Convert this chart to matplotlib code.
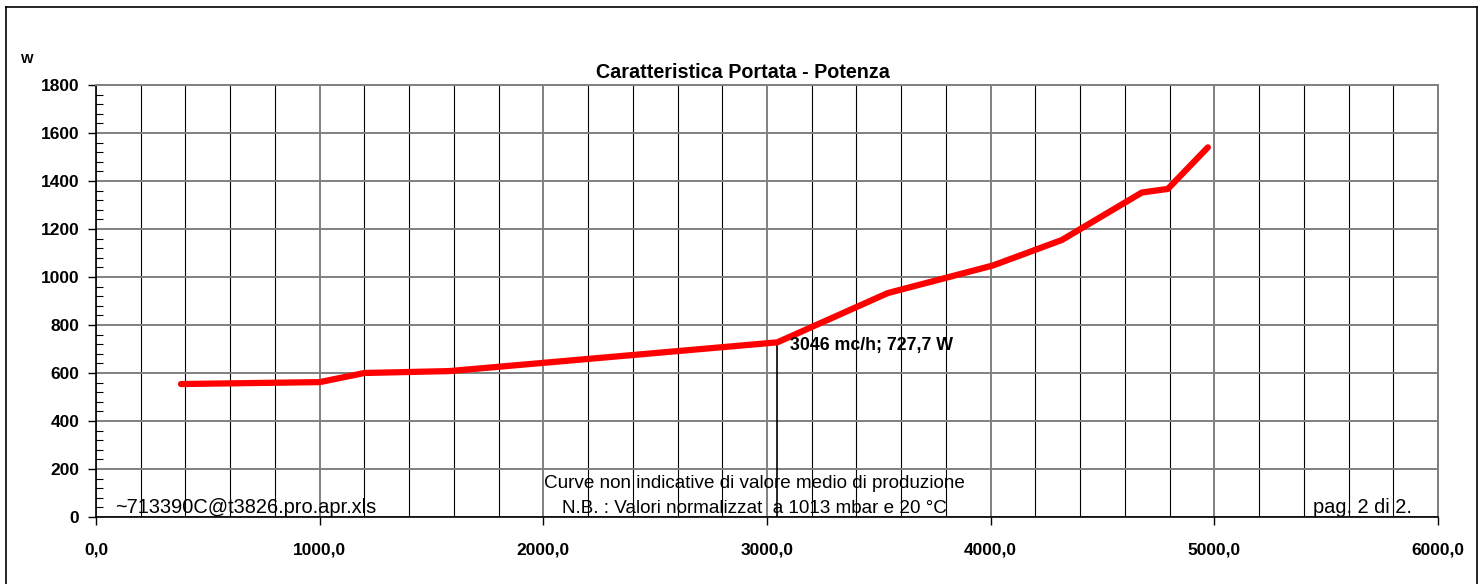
import matplotlib.pyplot as plt
from matplotlib.ticker import MultipleLocator, FuncFormatter
from matplotlib.lines import Line2D

plt.rcParams['font.family'] = ['Liberation Sans', 'DejaVu Sans']

# flow (mc/h) vs power (W)
portata = [380, 1000, 1200, 1580, 3046, 3540, 4010, 4318, 4676, 4792, 4971]
potenza = [554, 562, 600, 608, 727.7, 933, 1048, 1154, 1352, 1367, 1540]

punto_x = 3046
punto_y = 727.7
punto_label = "3046 mc/h; 727,7 W"

fig = plt.figure(figsize=(14.79, 5.84), dpi=100)
ax = fig.add_axes([0.0649, 0.1147, 0.9074, 0.7398])

ax.set_xlim(0, 6000)
ax.set_ylim(0, 1800)
ax.xaxis.set_major_locator(MultipleLocator(1000))
ax.xaxis.set_minor_locator(MultipleLocator(200))
ax.yaxis.set_major_locator(MultipleLocator(200))
ax.yaxis.set_minor_locator(MultipleLocator(40))
ax.xaxis.set_major_formatter(FuncFormatter(lambda v, p: f"{v:.1f}".replace('.', ',')))

ax.grid(True, which='major', axis='both', color='#808080', lw=1.4)
ax.grid(True, which='minor', axis='x', color='black', lw=0.8)

ax.tick_params(axis='both', which='major', direction='out', length=6, width=1,
               labelsize=12.5, pad=6)
ax.tick_params(axis='x', which='major', pad=12)
ax.tick_params(axis='x', which='minor', length=0)
ax.tick_params(axis='y', which='minor', direction='in', length=5, width=0.8)
for lab in ax.get_xticklabels() + ax.get_yticklabels():
    lab.set_fontweight('bold')

for s in ('top', 'right'):
    ax.spines[s].set_color('#808080')
    ax.spines[s].set_linewidth(1.4)
for s in ('left', 'bottom'):
    ax.spines[s].set_linewidth(1.2)

ax.plot(portata, potenza, color='#ff0000', lw=4.5, solid_capstyle='round',
        solid_joinstyle='round', zorder=5)
ax.plot([punto_x, punto_x], [0, punto_y], color='black', lw=1.2, zorder=4)
ax.text(punto_x + 55, punto_y - 12, punto_label, fontsize=12.8, fontweight='bold',
        va='center', ha='left', zorder=6)

fig.text(743 / 1479, 1 - 73 / 584, "Caratteristica Portata - Potenza",
         fontsize=14.2, fontweight='bold', ha='center', va='center')
fig.text(27 / 1479, 1 - 60 / 584, "W", fontsize=9.5, fontweight='bold', ha='center', va='center')

ax.text(85, 18, "~713390C@t3826.pro.apr.xls", fontsize=14.4, ha='left', va='baseline')
ax.text(2945, 121, "Curve non indicative di valore medio di produzione",
        fontsize=13.6, ha='center', va='baseline')
ax.text(2945, 18, "N.B. : Valori normalizzat  a 1013 mbar e 20 °C",
        fontsize=13.6, ha='center', va='baseline')
ax.text(5883, 18, "pag. 2 di 2.", fontsize=14.4, ha='right', va='baseline')

# page frame
W, H = 1479, 584
frame = dict(color='black', lw=1.2, transform=fig.transFigure)
fig.add_artist(Line2D([6 / W, 1477 / W], [1 - 7 / H, 1 - 7 / H], **frame))
fig.add_artist(Line2D([6 / W, 6 / W], [0, 1 - 7 / H], **frame))
fig.add_artist(Line2D([1477 / W, 1477 / W], [0, 1 - 7 / H], **frame))

fig.savefig("out.png", dpi=100)
